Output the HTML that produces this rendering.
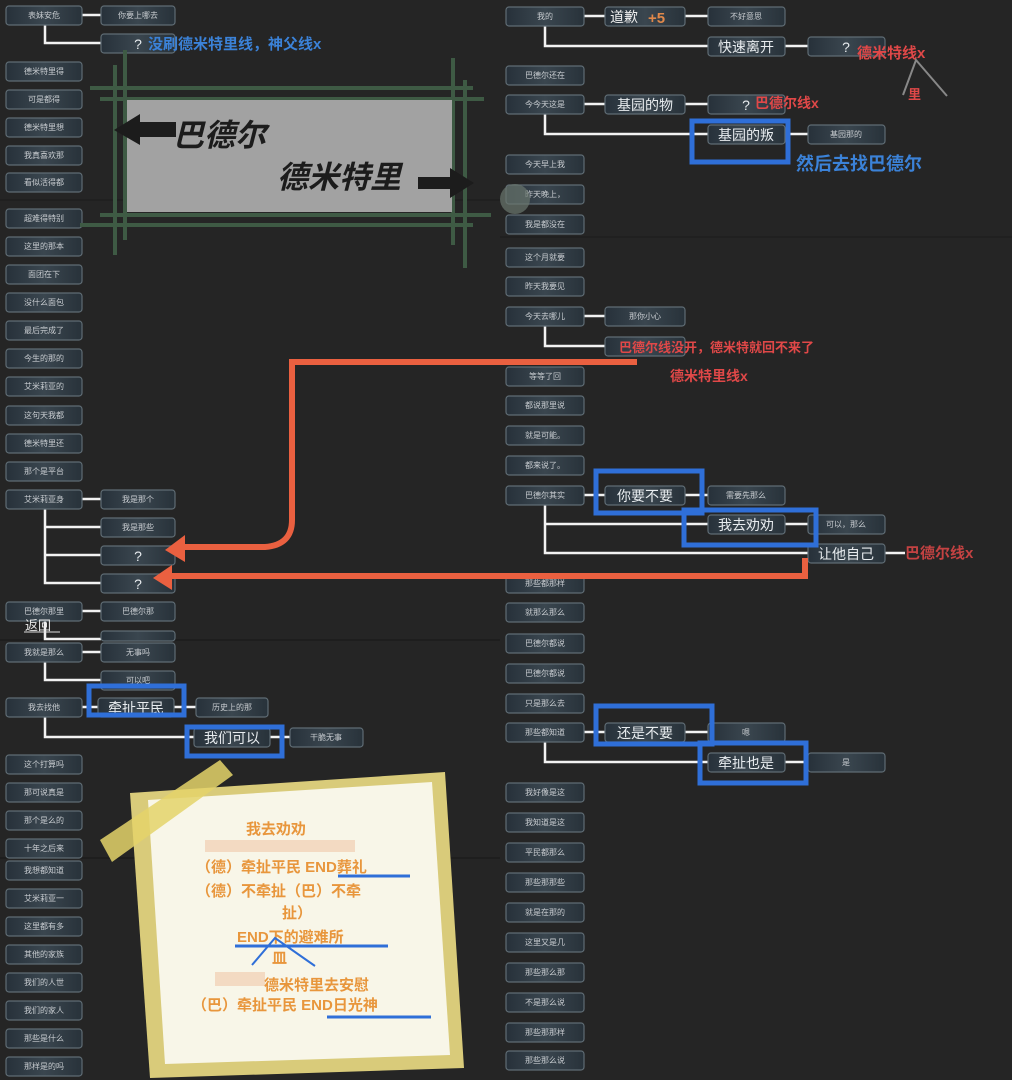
<!DOCTYPE html>
<html><head><meta charset="utf-8"><style>
html,body{margin:0;padding:0;background:#252525;}
svg{display:block}
text{font-family:"Liberation Sans","Noto Sans CJK SC",sans-serif}
.n{fill:url(#g);stroke:#5f6c74;stroke-width:1.2}
.t{fill:#c8ccd0;font-size:8px;text-anchor:middle}
.b{fill:#e8ecef;font-size:14px;text-anchor:middle}
.w{stroke:#f2f2f2;stroke-width:2.5;fill:none}
.bl{stroke:#2f6fd8;stroke-width:5;fill:none}
.o{fill:#e8963c;font-size:15px;font-weight:bold}
</style></head><body>
<svg width="1012" height="1080" viewBox="0 0 1012 1080" xmlns="http://www.w3.org/2000/svg">
<defs>
<linearGradient id="g" x1="0" x2="1" y1="0" y2="0"><stop offset="0" stop-color="#27313a"/><stop offset="0.5" stop-color="#3a464f"/><stop offset="1" stop-color="#28323a"/></linearGradient>
</defs>
<rect width="1012" height="1080" fill="#252525"/>
<line x1="0" y1="200" x2="500" y2="200" stroke="#1a1a1a"/>
<line x1="500" y1="237" x2="1012" y2="237" stroke="#1a1a1a"/>
<line x1="0" y1="640" x2="500" y2="640" stroke="#161616"/>
<line x1="0" y1="858" x2="500" y2="858" stroke="#161616"/>

<!-- connectors left -->
<path class="w" d="M82 15H101M45 25V43H101"/>
<path class="w" d="M82 499H101M45 509V583H101M45 527H101M45 555H101"/>
<path class="w" d="M82 611H101M45 621V639H101"/>
<path class="w" d="M82 652H101M45 662V680H101"/>
<path class="w" d="M82 707H196M45 717V737H290"/>
<!-- connectors right -->
<path class="w" d="M584 16H708M545 26V46H708M785 46H808"/>
<path class="w" d="M584 104H708M545 114V134H708M785 134H808"/>
<path class="w" d="M584 316H605M545 326V346H605"/>
<path class="w" d="M584 495H708M545 505V553H808M545 524H708M785 524H808M885 553H905"/>
<path class="w" d="M584 732H708M545 742V762H708M785 762H808"/>

<g id="L">
<!-- left column -->
<g>
<rect class="n" x="6" y="6" width="76" height="19" rx="3"/><text class="t" x="44" y="18">表妹安危</text>
<rect class="n" x="6" y="62" width="76" height="19" rx="3"/><text class="t" x="44" y="74">德米特里得</text>
<rect class="n" x="6" y="90" width="76" height="19" rx="3"/><text class="t" x="44" y="102">可是都得</text>
<rect class="n" x="6" y="118" width="76" height="19" rx="3"/><text class="t" x="44" y="130">德米特里想</text>
<rect class="n" x="6" y="146" width="76" height="19" rx="3"/><text class="t" x="44" y="158">我真喜欢那</text>
<rect class="n" x="6" y="173" width="76" height="19" rx="3"/><text class="t" x="44" y="185">看似活得都</text>
<rect class="n" x="6" y="209" width="76" height="19" rx="3"/><text class="t" x="44" y="221">超难得特别</text>
<rect class="n" x="6" y="237" width="76" height="19" rx="3"/><text class="t" x="44" y="249">这里的那本</text>
<rect class="n" x="6" y="265" width="76" height="19" rx="3"/><text class="t" x="44" y="277">面团在下</text>
<rect class="n" x="6" y="293" width="76" height="19" rx="3"/><text class="t" x="44" y="305">没什么面包</text>
<rect class="n" x="6" y="321" width="76" height="19" rx="3"/><text class="t" x="44" y="333">最后完成了</text>
<rect class="n" x="6" y="349" width="76" height="19" rx="3"/><text class="t" x="44" y="361">今生的那的</text>
<rect class="n" x="6" y="377" width="76" height="19" rx="3"/><text class="t" x="44" y="389">艾米莉亚的</text>
<rect class="n" x="6" y="406" width="76" height="19" rx="3"/><text class="t" x="44" y="418">这句天我都</text>
<rect class="n" x="6" y="434" width="76" height="19" rx="3"/><text class="t" x="44" y="446">德米特里还</text>
<rect class="n" x="6" y="462" width="76" height="19" rx="3"/><text class="t" x="44" y="474">那个是平台</text>
<rect class="n" x="6" y="490" width="76" height="19" rx="3"/><text class="t" x="44" y="502">艾米莉亚身</text>
<rect class="n" x="6" y="602" width="76" height="19" rx="3"/><text class="t" x="44" y="614">巴德尔那里</text>
<rect class="n" x="6" y="643" width="76" height="19" rx="3"/><text class="t" x="44" y="655">我就是那么</text>
<rect class="n" x="6" y="698" width="76" height="19" rx="3"/><text class="t" x="44" y="710">我去找他</text>
<rect class="n" x="6" y="755" width="76" height="19" rx="3"/><text class="t" x="44" y="767">这个打算吗</text>
<rect class="n" x="6" y="783" width="76" height="19" rx="3"/><text class="t" x="44" y="795">那可说真是</text>
<rect class="n" x="6" y="811" width="76" height="19" rx="3"/><text class="t" x="44" y="823">那个是么的</text>
<rect class="n" x="6" y="839" width="76" height="19" rx="3"/><text class="t" x="44" y="851">十年之后来</text>
<rect class="n" x="6" y="861" width="76" height="19" rx="3"/><text class="t" x="44" y="873">我想都知道</text>
<rect class="n" x="6" y="889" width="76" height="19" rx="3"/><text class="t" x="44" y="901">艾米莉亚一</text>
<rect class="n" x="6" y="917" width="76" height="19" rx="3"/><text class="t" x="44" y="929">这里都有多</text>
<rect class="n" x="6" y="945" width="76" height="19" rx="3"/><text class="t" x="44" y="957">其他的家族</text>
<rect class="n" x="6" y="973" width="76" height="19" rx="3"/><text class="t" x="44" y="985">我们的人世</text>
<rect class="n" x="6" y="1001" width="76" height="19" rx="3"/><text class="t" x="44" y="1013">我们的家人</text>
<rect class="n" x="6" y="1029" width="76" height="19" rx="3"/><text class="t" x="44" y="1041">那些是什么</text>
<rect class="n" x="6" y="1057" width="76" height="19" rx="3"/><text class="t" x="44" y="1069">那样是的吗</text>
</g>
<!-- left second level -->
<rect class="n" x="101" y="6" width="74" height="19" rx="3"/><text class="t" x="138" y="18">你要上哪去</text>
<rect class="n" x="101" y="34" width="74" height="19" rx="3"/><text class="b" x="138" y="49">?</text>
<rect class="n" x="101" y="490" width="74" height="19" rx="3"/><text class="t" x="138" y="502">我是那个</text>
<rect class="n" x="101" y="518" width="74" height="19" rx="3"/><text class="t" x="138" y="530">我是那些</text>
<rect class="n" x="101" y="546" width="74" height="19" rx="3"/><text class="b" x="138" y="561">?</text>
<rect class="n" x="101" y="574" width="74" height="19" rx="3"/><text class="b" x="138" y="589">?</text>
<rect class="n" x="101" y="602" width="74" height="19" rx="3"/><text class="t" x="138" y="614">巴德尔那</text>
<rect class="n" x="101" y="631" width="74" height="10" rx="3"/>
<rect class="n" x="101" y="643" width="74" height="19" rx="3"/><text class="t" x="138" y="655">无事吗</text>
<rect class="n" x="101" y="671" width="74" height="19" rx="3"/><text class="t" x="138" y="683">可以吧</text>
<rect class="n" x="98" y="698" width="76" height="19" rx="3"/><text class="b" x="136" y="713">牵扯平民</text>
<rect class="n" x="196" y="698" width="72" height="19" rx="3"/><text class="t" x="232" y="710">历史上的那</text>
<rect class="n" x="194" y="728" width="76" height="19" rx="3"/><text class="b" x="232" y="743">我们可以</text>
<rect class="n" x="290" y="728" width="73" height="19" rx="3"/><text class="t" x="326" y="740">干脆无事</text>
<text x="25" y="630" fill="#e8e8e8" font-size="13">返回</text>
<line x1="24" y1="632" x2="60" y2="632" stroke="#ddd"/>
</g>

<!-- right column -->
<g>
<rect class="n" x="506" y="7" width="78" height="19" rx="3"/><text class="t" x="545" y="19">我的</text>
<rect class="n" x="506" y="66" width="78" height="19" rx="3"/><text class="t" x="545" y="78">巴德尔还在</text>
<rect class="n" x="506" y="95" width="78" height="19" rx="3"/><text class="t" x="545" y="107">今今天这是</text>
<rect class="n" x="506" y="155" width="78" height="19" rx="3"/><text class="t" x="545" y="167">今天早上我</text>
<rect class="n" x="506" y="185" width="78" height="19" rx="3"/><text class="t" x="545" y="197">昨天晚上，</text>
<rect class="n" x="506" y="215" width="78" height="19" rx="3"/><text class="t" x="545" y="227">我是都没在</text>
<rect class="n" x="506" y="248" width="78" height="19" rx="3"/><text class="t" x="545" y="260">这个月就要</text>
<rect class="n" x="506" y="277" width="78" height="19" rx="3"/><text class="t" x="545" y="289">昨天我要见</text>
<rect class="n" x="506" y="307" width="78" height="19" rx="3"/><text class="t" x="545" y="319">今天去哪儿</text>
<rect class="n" x="506" y="367" width="78" height="19" rx="3"/><text class="t" x="545" y="379">等等了回</text>
<rect class="n" x="506" y="396" width="78" height="19" rx="3"/><text class="t" x="545" y="408">都说那里说</text>
<rect class="n" x="506" y="426" width="78" height="19" rx="3"/><text class="t" x="545" y="438">就是可能。</text>
<rect class="n" x="506" y="456" width="78" height="19" rx="3"/><text class="t" x="545" y="468">都来说了。</text>
<rect class="n" x="506" y="486" width="78" height="19" rx="3"/><text class="t" x="545" y="498">巴德尔其实</text>
<rect class="n" x="506" y="574" width="78" height="19" rx="3"/><text class="t" x="545" y="586">那些都那样</text>
<rect class="n" x="506" y="603" width="78" height="19" rx="3"/><text class="t" x="545" y="615">就那么那么</text>
<rect class="n" x="506" y="634" width="78" height="19" rx="3"/><text class="t" x="545" y="646">巴德尔都说</text>
<rect class="n" x="506" y="664" width="78" height="19" rx="3"/><text class="t" x="545" y="676">巴德尔都说</text>
<rect class="n" x="506" y="694" width="78" height="19" rx="3"/><text class="t" x="545" y="706">只是那么去</text>
<rect class="n" x="506" y="723" width="78" height="19" rx="3"/><text class="t" x="545" y="735">那些都知道</text>
<rect class="n" x="506" y="783" width="78" height="19" rx="3"/><text class="t" x="545" y="795">我好像是这</text>
<rect class="n" x="506" y="813" width="78" height="19" rx="3"/><text class="t" x="545" y="825">我知道是这</text>
<rect class="n" x="506" y="843" width="78" height="19" rx="3"/><text class="t" x="545" y="855">平民都那么</text>
<rect class="n" x="506" y="873" width="78" height="19" rx="3"/><text class="t" x="545" y="885">那些那那些</text>
<rect class="n" x="506" y="903" width="78" height="19" rx="3"/><text class="t" x="545" y="915">就是在那的</text>
<rect class="n" x="506" y="933" width="78" height="19" rx="3"/><text class="t" x="545" y="945">这里又是几</text>
<rect class="n" x="506" y="963" width="78" height="19" rx="3"/><text class="t" x="545" y="975">那些那么那</text>
<rect class="n" x="506" y="993" width="78" height="19" rx="3"/><text class="t" x="545" y="1005">不是那么说</text>
<rect class="n" x="506" y="1023" width="78" height="19" rx="3"/><text class="t" x="545" y="1035">那些那那样</text>
<rect class="n" x="506" y="1051" width="78" height="19" rx="3"/><text class="t" x="545" y="1063">那些那么说</text>
</g>
<!-- right second level -->
<rect class="n" x="605" y="7" width="80" height="19" rx="3"/><text x="610" y="22" fill="#eee" font-size="14">道歉</text><text x="648" y="23" fill="#e0884a" font-size="15" font-weight="bold">+5</text>
<rect class="n" x="708" y="7" width="77" height="19" rx="3"/><text class="t" x="746" y="19">不好意思</text>
<rect class="n" x="708" y="37" width="77" height="19" rx="3"/><text class="b" x="746" y="52">快速离开</text>
<rect class="n" x="808" y="37" width="77" height="19" rx="3"/><text class="b" x="846" y="52">?</text>
<rect class="n" x="605" y="95" width="80" height="19" rx="3"/><text class="b" x="645" y="110">基园的物</text>
<rect class="n" x="708" y="95" width="77" height="19" rx="3"/><text class="b" x="746" y="110">?</text>
<rect class="n" x="708" y="125" width="77" height="19" rx="3"/><text class="b" x="746" y="140">基园的叛</text>
<rect class="n" x="808" y="125" width="77" height="19" rx="3"/><text class="t" x="846" y="137">基园那的</text>
<rect class="n" x="605" y="307" width="80" height="19" rx="3"/><text class="t" x="645" y="319">那你小心</text>
<rect class="n" x="605" y="337" width="80" height="19" rx="3"/>
<rect class="n" x="605" y="486" width="80" height="19" rx="3"/><text class="b" x="645" y="501">你要不要</text>
<rect class="n" x="708" y="486" width="77" height="19" rx="3"/><text class="t" x="746" y="498">需要先那么</text>
<rect class="n" x="708" y="515" width="77" height="19" rx="3"/><text class="b" x="746" y="530">我去劝劝</text>
<rect class="n" x="808" y="515" width="77" height="19" rx="3"/><text class="t" x="846" y="527">可以，那么</text>
<rect class="n" x="808" y="544" width="77" height="19" rx="3"/><text class="b" x="846" y="559">让他自己</text>
<rect class="n" x="605" y="723" width="80" height="19" rx="3"/><text class="b" x="645" y="738">还是不要</text>
<rect class="n" x="708" y="723" width="77" height="19" rx="3"/><text class="t" x="746" y="735">嗯</text>
<rect class="n" x="708" y="753" width="77" height="19" rx="3"/><text class="b" x="746" y="768">牵扯也是</text>
<rect class="n" x="808" y="753" width="77" height="19" rx="3"/><text class="t" x="846" y="765">是</text>

<!-- annotations -->
<text x="148" y="49" fill="#3b82d8" font-size="15" font-weight="bold">没刷德米特里线，神父线x</text>
<text x="857" y="58" fill="#e04848" font-size="15" font-weight="bold">德米特线x</text>
<path d="M903 95L916 60L947 96" stroke="#888" stroke-width="2" fill="none"/>
<text x="908" y="99" fill="#e04848" font-size="13" font-weight="bold">里</text>
<text x="755" y="108" fill="#e04848" font-size="14" font-weight="bold">巴德尔线x</text>
<text x="796" y="170" fill="#3b82d8" font-size="18" font-weight="bold">然后去找巴德尔</text>
<text x="619" y="352" fill="#e04848" font-size="13" font-weight="bold">巴德尔线没开，德米特就回不来了</text>
<text x="670" y="381" fill="#e04848" font-size="14" font-weight="bold">德米特里线x</text>
<text x="905" y="558" fill="#e04848" font-size="15" font-weight="bold" opacity="0.85">巴德尔线x</text>
<circle cx="515" cy="199" r="15" fill="#6a766e" opacity="0.7"/>

<!-- blue boxes -->
<rect class="bl" x="692" y="121" width="96" height="41"/>
<rect class="bl" x="596" y="471" width="106" height="42"/>
<rect class="bl" x="684" y="510" width="132" height="35"/>
<rect class="bl" x="596" y="706" width="116" height="38"/>
<rect class="bl" x="700" y="743" width="106" height="40"/>
<rect class="bl" x="89" y="686" width="95" height="29"/>
<rect class="bl" x="187" y="727" width="95" height="29"/>

<!-- gray picture -->
<g stroke="#3e5a44" stroke-width="4">
<line x1="90" y1="88" x2="473" y2="88"/><line x1="100" y1="99" x2="484" y2="99"/>
<line x1="100" y1="215" x2="491" y2="215"/><line x1="80" y1="225" x2="473" y2="225"/>
<line x1="115" y1="65" x2="115" y2="255"/><line x1="125" y1="50" x2="125" y2="240"/>
<line x1="453" y1="58" x2="453" y2="245"/><line x1="465" y1="80" x2="465" y2="268"/>
</g>
<rect x="127" y="100" width="325" height="112" fill="#a2a2a2"/>
<text x="173" y="146" fill="#1c1c1c" font-size="31" font-weight="bold" font-style="italic">巴德尔</text>
<text x="277" y="188" fill="#1c1c1c" font-size="31" font-weight="bold" font-style="italic">德米特里</text>
<path d="M176 122H140V114L114 130L140 145V137H176Z" fill="#1c1c1c"/>
<path d="M418 177H450V168L474 183L450 198V189H418Z" fill="#1c1c1c"/>

<!-- orange arrows -->
<path d="M637 362H292V520Q292 545 265 547H180" stroke="#ea6040" stroke-width="6" fill="none"/>
<path d="M185 535L165 550L185 562Z" fill="#ea6040"/>
<path d="M805 558V576H172" stroke="#ea6040" stroke-width="6" fill="none"/>
<path d="M172 565L153 578L172 590Z" fill="#ea6040"/>

<!-- sticky note -->
<polygon points="130,793 445,772 464,1068 150,1078" fill="#d9cb7a"/>
<polygon points="148,800 432,782 450,1055 165,1064" fill="#f8f6e8"/>
<polygon points="100,840 220,760 233,775 112,862" fill="#e4d46a" opacity="0.85"/>
<g font-family="Liberation Sans,Noto Sans CJK SC,sans-serif">
<text class="o" x="246" y="834" font-size="17">我去劝劝</text>
<rect x="205" y="840" width="150" height="12" fill="#f0c8a8" opacity="0.6"/>
<text class="o" x="196" y="872">（德）牵扯平民  END葬礼</text>
<line x1="338" y1="876" x2="410" y2="876" stroke="#2f6fd8" stroke-width="3"/>
<text class="o" x="196" y="896">（德）不牵扯（巴）不牵</text>
<text class="o" x="282" y="918">扯）</text>
<text class="o" x="237" y="942">END下的避难所</text>
<line x1="235" y1="946" x2="388" y2="946" stroke="#2f6fd8" stroke-width="3"/>
<path d="M252 965L275 938L315 966" stroke="#2f6fd8" stroke-width="2" fill="none"/>
<text class="o" x="272" y="963">皿</text>
<rect x="215" y="972" width="50" height="14" fill="#f0c8a8" opacity="0.6"/>
<text class="o" x="264" y="990" font-size="17">德米特里去安慰</text>
<text class="o" x="192" y="1010">（巴）牵扯平民  END日光神</text>
<line x1="327" y1="1017" x2="431" y2="1017" stroke="#2f6fd8" stroke-width="3"/>
</g>
</svg>
</body></html>
